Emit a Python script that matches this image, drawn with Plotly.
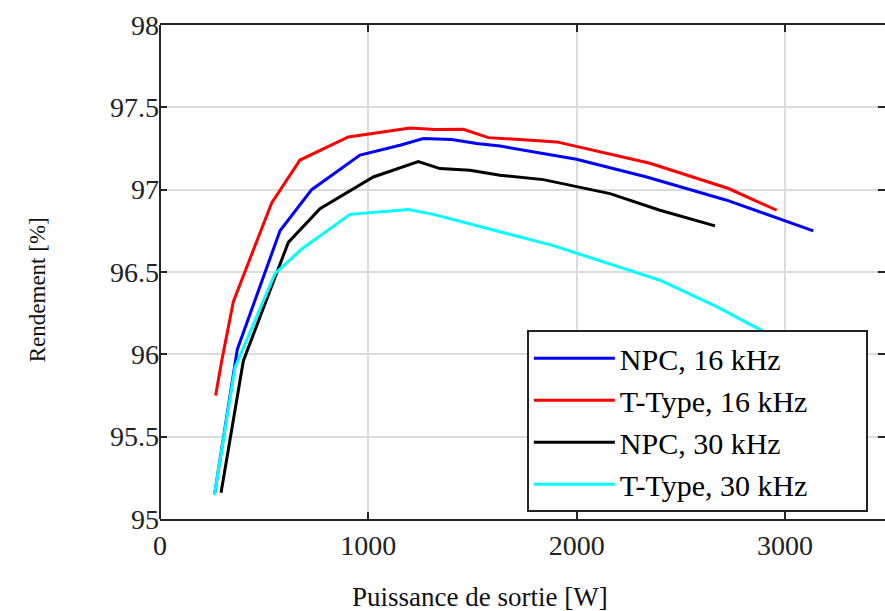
import plotly.graph_objects as go

# Data (Puissance de sortie [W], Rendement [%])
npc16_x = [262, 371, 576, 728, 960, 1152, 1264, 1400, 1520, 1632, 1999, 2336, 2720, 3136]
npc16_y = [95.15, 96.03, 96.75, 97.00, 97.21, 97.27, 97.31, 97.305, 97.28, 97.265, 97.185, 97.077, 96.936, 96.75]

ttype16_x = [267, 296, 352, 536, 672, 904, 1200, 1320, 1456, 1576, 1904, 2352, 2729, 2960]
ttype16_y = [95.75, 95.96, 96.32, 96.92, 97.18, 97.32, 97.375, 97.365, 97.367, 97.316, 97.29, 97.16, 97.007, 96.875]

npc30_x = [293, 400, 616, 768, 1024, 1240, 1344, 1488, 1632, 1840, 2160, 2400, 2664]
npc30_y = [95.16, 95.96, 96.68, 96.885, 97.077, 97.17, 97.128, 97.118, 97.088, 97.061, 96.976, 96.875, 96.78]

ttype30_x = [261, 360, 552, 680, 912, 1192, 1312, 1632, 1888, 2400, 2672, 2880, 3100]
ttype30_y = [95.145, 95.92, 96.49, 96.64, 96.85, 96.88, 96.85, 96.743, 96.66, 96.45, 96.29, 96.15, 95.98]

names = ["NPC, 16 kHz", "T-Type, 16 kHz", "NPC, 30 kHz", "T-Type, 30 kHz"]
colors = ["#0000ff", "#ff0000", "#000000", "#00ffff"]
series = [(npc16_x, npc16_y), (ttype16_x, ttype16_y), (npc30_x, npc30_y), (ttype30_x, ttype30_y)]

x_ticks = [0, 1000, 2000, 3000]
y_ticks = [95, 95.5, 96, 96.5, 97, 97.5, 98]
y_ticktext = ["95", "95.5", "96", "96.5", "97", "97.5", "98"]

x_title = "Puissance de sortie [W]"
y_title = "Rendement [%]"

FONT = "Liberation Serif"
AXC = "#262626"
PAD = "\u00a0" * 7  # widens the legend box like the reference

fig = go.Figure()
for (xs, ys), n, c in zip(series, names, colors):
    fig.add_trace(go.Scatter(x=xs, y=ys, mode="lines", name=n + PAD,
                             line=dict(color=c, width=3)))

fig.update_layout(
    width=885, height=611,
    margin=dict(l=160, r=0, t=25, b=92),
    paper_bgcolor="white", plot_bgcolor="white",
    font=dict(family=FONT, color="#222222"),
    showlegend=True,
    legend=dict(
        x=0.506, y=0.382, xanchor="left", yanchor="top",
        bgcolor="white", bordercolor="#222222", borderwidth=2,
        font=dict(family=FONT, size=30, color="#000000"),
        itemwidth=81,
    ),
    xaxis=dict(
        range=[0, 3480], tickvals=x_ticks, ticktext=[str(v) for v in x_ticks],
        showgrid=True, gridcolor="#dcdcdc", gridwidth=2,
        showline=True, linecolor=AXC, linewidth=2, mirror="ticks",
        ticks="inside", ticklen=7, tickwidth=2, tickcolor=AXC,
        tickfont=dict(family=FONT, size=28, color="#222222"),
        zeroline=False,
    ),
    yaxis=dict(
        range=[95, 98], tickvals=y_ticks, ticktext=y_ticktext,
        showgrid=True, gridcolor="#dcdcdc", gridwidth=2,
        showline=False, mirror="ticks",
        ticks="inside", ticklen=7, tickwidth=2, tickcolor=AXC,
        tickfont=dict(family=FONT, size=28, color="#222222"),
        zeroline=False,
    ),
)

# left frame line (right side of the frame lies outside the picture)
fig.add_shape(type="line", xref="paper", yref="paper", x0=0, x1=0, y0=0, y1=1,
              line=dict(color=AXC, width=2), layer="above")

# axis titles
fig.add_annotation(text=x_title, xref="paper", yref="paper", x=0.441, y=-0.158,
                   xanchor="center", yanchor="middle", showarrow=False,
                   font=dict(family=FONT, size=27, color="#111111"))
fig.add_annotation(text=y_title, xref="paper", yref="paper", x=-0.169, y=0.464,
                   xanchor="center", yanchor="middle", textangle=-90, showarrow=False,
                   font=dict(family=FONT, size=23, color="#111111"))

fig.write_html("out.html")
